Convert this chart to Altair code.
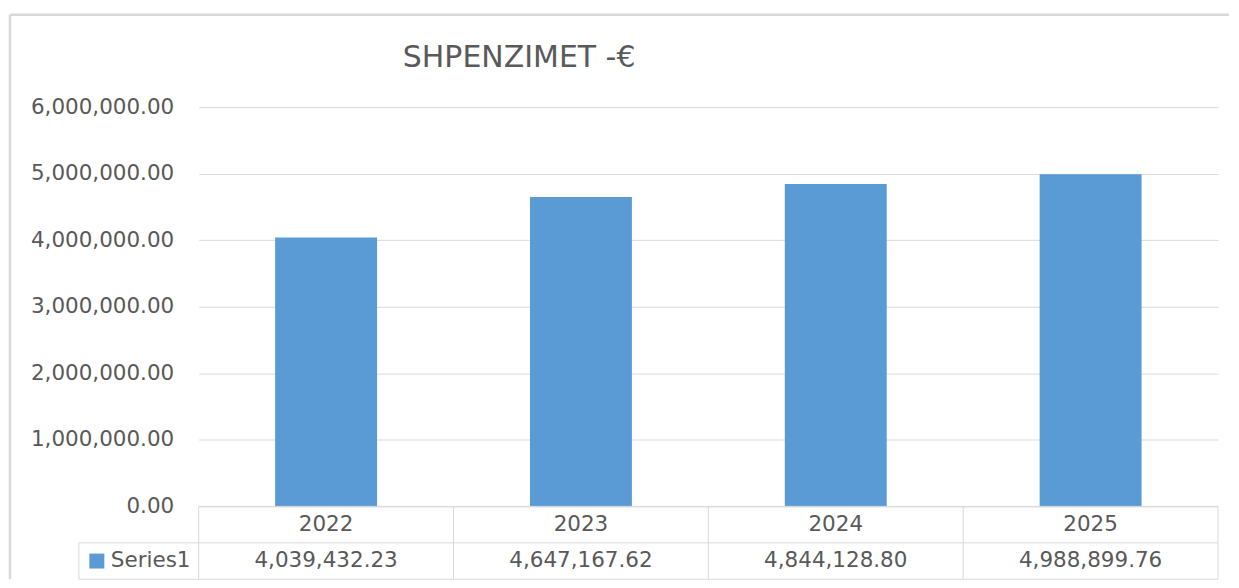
import altair as alt
import pandas as pd

# ---- data ----
years = ["2022", "2023", "2024", "2025"]
values = [4039432.23, 4647167.62, 4844128.80, 4988899.76]
series_name = "Series1"
title_text = "SHPENZIMET -€"
y_ticks = [0, 1000000, 2000000, 3000000, 4000000, 5000000, 6000000]

# ---- styling / layout ----
PLOT_W = 1021
PLOT_H = 400
TABLE_H = 73
FONT = "DejaVu Sans"
FS = 21.5
TEXT = "#595959"
GRID = "#D9D9D9"
BAR = "#5B9BD5"

n = len(years)
col_w = PLOT_W / n
leg_left = -120 / col_w
leg_sq = -102 / col_w
leg_txt = -88 / col_w

df = pd.DataFrame({"year": years, "value": values})
df["xc"] = [i + 0.5 for i in range(n)]
df["label"] = [f"{v:,.2f}" for v in values]
df["hrow"] = 0.5
df["vrow"] = 1.5

# ---- top chart: bars ----
bars = alt.Chart(df).mark_bar(color=BAR).encode(
    x=alt.X("year:N", sort=years, axis=None,
            scale=alt.Scale(paddingInner=0.6, paddingOuter=0.3)),
    y=alt.Y("value:Q",
            scale=alt.Scale(domain=[0, 6000000], nice=False),
            axis=alt.Axis(values=y_ticks, format=",.2f", grid=True,
                          gridColor=GRID, gridWidth=1, domain=False,
                          ticks=False, labelPadding=25, labelFont=FONT,
                          labelFontSize=FS, labelColor=TEXT, title=None)),
)

title = alt.Chart(pd.DataFrame({"t": [title_text]})).mark_text(
    font=FONT, fontSize=30, color=TEXT, align="center", baseline="middle"
).encode(x=alt.value(321), y=alt.value(-49), text="t:N")

one = pd.DataFrame({"k": [0]})
frame_left = alt.Chart(one).mark_rule(color=GRID, strokeWidth=2.5).encode(
    x=alt.value(-189), y=alt.value(-92.5), y2=alt.value(PLOT_H + TABLE_H))
frame_top = alt.Chart(one).mark_rule(color=GRID, strokeWidth=2.5).encode(
    x=alt.value(-189), x2=alt.value(1032), y=alt.value(-92.5))

top = alt.layer(frame_left, frame_top, title, bars).properties(
    width=PLOT_W, height=PLOT_H)

# ---- bottom chart: data table ----
xs = alt.Scale(domain=[0, n], nice=False, zero=False)
ys = alt.Scale(domain=[0, 2], nice=False, zero=False, reverse=True)

hlines = pd.DataFrame({"x": [0, leg_left, leg_left], "x2": [n, n, n],
                       "y": [0, 1, 2]})
vlines = pd.DataFrame({"x": [leg_left] + list(range(n + 1)),
                       "y": [1] + [0] * (n + 1),
                       "y2": [2] * (n + 2)})

hrule = alt.Chart(hlines).mark_rule(color=GRID, strokeWidth=1).encode(
    x=alt.X("x:Q", scale=xs, axis=None), x2="x2:Q",
    y=alt.Y("y:Q", scale=ys, axis=None))
vrule = alt.Chart(vlines).mark_rule(color=GRID, strokeWidth=1).encode(
    x=alt.X("x:Q", scale=xs, axis=None),
    y=alt.Y("y:Q", scale=ys, axis=None), y2="y2:Q")

year_txt = alt.Chart(df).mark_text(font=FONT, fontSize=FS, color=TEXT,
                                   baseline="middle").encode(
    x=alt.X("xc:Q", scale=xs, axis=None),
    y=alt.Y("hrow:Q", scale=ys, axis=None), text="year:N")
val_txt = alt.Chart(df).mark_text(font=FONT, fontSize=FS, color=TEXT,
                                  baseline="middle").encode(
    x=alt.X("xc:Q", scale=xs, axis=None),
    y=alt.Y("vrow:Q", scale=ys, axis=None), text="label:N")

leg_df = pd.DataFrame({"name": [series_name], "xs": [leg_sq],
                       "xt": [leg_txt], "y": [1.5]})
leg_mark = alt.Chart(leg_df).mark_square(size=225, color=BAR, opacity=1,
                                         filled=True).encode(
    x=alt.X("xs:Q", scale=xs, axis=None),
    y=alt.Y("y:Q", scale=ys, axis=None))
leg_label = alt.Chart(leg_df).mark_text(font=FONT, fontSize=FS, color=TEXT,
                                        align="left", baseline="middle").encode(
    x=alt.X("xt:Q", scale=xs, axis=None),
    y=alt.Y("y:Q", scale=ys, axis=None), text="name:N")

bottom = alt.layer(hrule, vrule, year_txt, val_txt, leg_mark, leg_label).properties(
    width=PLOT_W, height=TABLE_H)

chart = alt.vconcat(top, bottom, spacing=0, bounds="flush").properties(
    padding={"left": 0, "top": 4.75, "right": 0, "bottom": 0}
).configure_view(stroke=None)

chart.save("out.html", embed_options={"renderer": "svg", "actions": False})
